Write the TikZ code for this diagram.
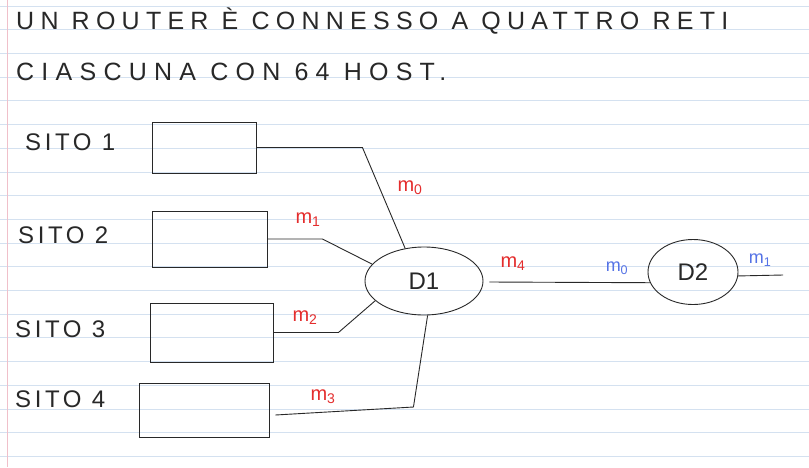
\documentclass[tikz,border=0pt]{standalone}
\usepackage{fontspec}
\setmainfont{Liberation Sans}
\usetikzlibrary{shapes.geometric}
\definecolor{ink}{RGB}{40,40,40}
\definecolor{redink}{RGB}{228,45,45}
\definecolor{blueink}{RGB}{85,115,230}
\definecolor{ruled}{RGB}{212,225,240}
\definecolor{marginline}{RGB}{240,192,202}
\begin{document}
\begin{tikzpicture}[x=1pt, y=-1pt,
    wire/.style={draw=ink, line width=0.9pt},
    sitebox/.style={wire, rectangle, inner sep=0pt},
    router/.style={wire, ellipse, inner sep=0pt, font=\fontsize{24}{28}\selectfont, text=ink},
    title/.style={anchor=base west, inner sep=0pt, text=ink},
    sitename/.style={anchor=base west, inner sep=0pt, text=ink, font=\fontsize{24}{28}\selectfont\addfontfeature{LetterSpace=15}},
    redlabel/.style={text=redink, inner sep=0pt, font=\fontsize{20}{22}\selectfont},
    bluelabel/.style={text=blueink, inner sep=0pt, font=\fontsize{18}{20}\selectfont}]
    % Paper
    \useasboundingbox (0,0) rectangle (809,467);
    \fill [white] (0,0) rectangle (809,467);
    \foreach \k in {0,...,19}
        \draw [ruled, line width=0.8pt] (0,6+23.7*\k) -- (809,6+23.7*\k);
    \draw [marginline, line width=0.8pt] (7.5,0) -- (7.5,467);

    % Title
    \node [title, font=\fontsize{25}{30}\selectfont\addfontfeature{LetterSpace=25}] (line1) at (16,29) {UN ROUTER È CONNESSO A QUATTRO RETI};
    \node [title, font=\fontsize{25}{30}\selectfont\addfontfeature{LetterSpace=29}] (line2) at (16,80) {CIASCUNA CON 64 HOST.};

    % Sites
    \node [sitename] (sito1) at (25,150) {SITO 1};
    \node [sitename] (sito2) at (18,243) {SITO 2};
    \node [sitename] (sito3) at (15,337) {SITO 3};
    \node [sitename] (sito4) at (15,407) {SITO 4};

    \node [sitebox, minimum width=104pt, minimum height=51pt] (box1) at (204,147.5) {};
    \node [sitebox, minimum width=115pt, minimum height=56pt] (box2) at (209.5,239) {};
    \node [sitebox, minimum width=123pt, minimum height=59pt] (box3) at (211.5,332.5) {};
    \node [sitebox, minimum width=130pt, minimum height=54pt] (box4) at (204,410) {};

    % Routers
    \node [router, minimum width=118pt, minimum height=68pt] (d1) at (424,281) {D1};
    \node [router, minimum width=90pt, minimum height=65pt] (d2) at (693,272) {D2};
    \coordinate (out) at (783,275);

    % Links
    \draw [wire] (box1.east) -- ++(106,0) -- (d1.120);
    \draw [wire] (box2.east) -- ++(55,0) -- (d1.162);
    \draw [wire] (box3.east) -- ++(65,0) -- (d1.202);
    \draw [wire] (box4.east) ++(6,5) -- ++(138,-8) -- (d1.276);
    \draw [wire] (d1.east) ++(6,1) -- (d2.194);
    \draw [wire] (d2.-5) -- (out);

    % Addresses
    \node [redlabel] (m0) at (410,188) {m\textsubscript{0}};
    \node [redlabel] (m1) at (308,220) {m\textsubscript{1}};
    \node [redlabel] (m2) at (305,318) {m\textsubscript{2}};
    \node [redlabel] (m3) at (323,397) {m\textsubscript{3}};
    \node [redlabel] (m4) at (513,264) {m\textsubscript{4}};
    \node [bluelabel] (n0) at (617,268) {m\textsubscript{0}};
    \node [bluelabel] (n1) at (760,260) {m\textsubscript{1}};
\end{tikzpicture}
\end{document}
